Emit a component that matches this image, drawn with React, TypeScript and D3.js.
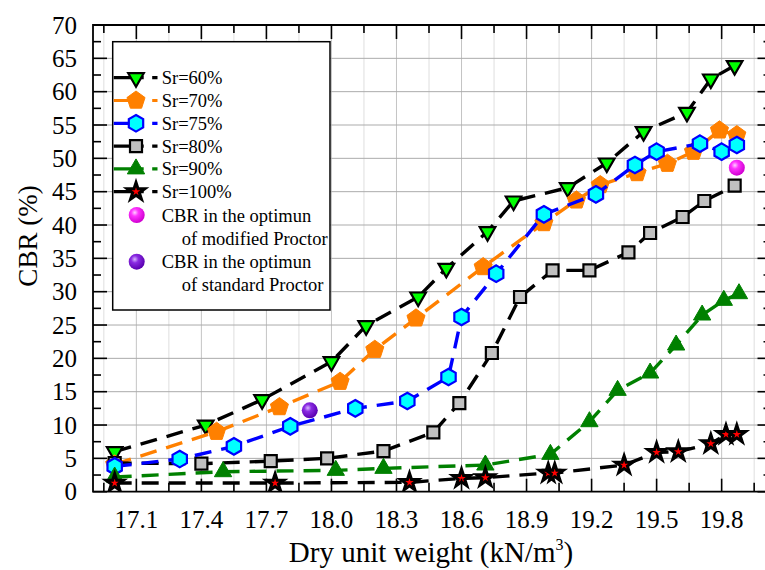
import React from 'react';
import * as d3 from 'd3';

// values
const sr60X = [17.0, 17.42, 17.68, 18.0, 18.16, 18.4, 18.53, 18.72, 18.84, 19.09, 19.27, 19.44, 19.64, 19.75, 19.86];
const sr60Y = [6.0, 10.0, 13.8, 19.5, 24.9, 29.2, 33.5, 39.0, 43.6, 45.6, 49.3, 54.0, 56.9, 61.9, 63.9];

const sr70X = [17.0, 17.47, 17.76, 18.04, 18.2, 18.39, 18.7, 18.98, 19.13, 19.24, 19.41, 19.55, 19.67, 19.79, 19.87];
const sr70Y = [4.1, 9.0, 12.7, 16.5, 21.3, 26.0, 33.7, 40.3, 43.7, 46.0, 47.8, 49.2, 51.0, 54.2, 53.5];

const sr75X = [17.0, 17.3, 17.55, 17.81, 18.11, 18.35, 18.54, 18.6, 18.76, 18.98, 19.22, 19.4, 19.5, 19.7, 19.8, 19.87];
const sr75Y = [3.8, 4.9, 6.8, 9.8, 12.5, 13.6, 17.2, 26.2, 32.7, 41.6, 44.6, 49.0, 51.0, 52.2, 51.0, 52.0];

const sr80X = [17.0, 17.4, 17.72, 17.98, 18.24, 18.47, 18.59, 18.74, 18.87, 19.02, 19.19, 19.37, 19.47, 19.62, 19.72, 19.86];
const sr80Y = [4.3, 4.2, 4.6, 5.0, 6.1, 8.9, 13.3, 20.8, 29.2, 33.2, 33.2, 35.9, 38.8, 41.2, 43.6, 45.9];

const sr90X = [17.0, 17.5, 18.02, 18.24, 18.71, 19.01, 19.19, 19.32, 19.47, 19.59, 19.71, 19.81, 19.88];
const sr90Y = [2.2, 3.0, 3.2, 3.5, 4.0, 5.6, 10.5, 15.2, 17.8, 22.0, 26.5, 28.7, 29.7];

const sr100X = [17.0, 17.74, 18.36, 18.6, 18.71, 19.0, 19.03, 19.35, 19.5, 19.6, 19.75, 19.82, 19.87];
const sr100Y = [1.3, 1.3, 1.4, 2.0, 2.1, 2.8, 2.8, 4.0, 5.9, 6.0, 7.2, 8.6, 8.6];

const modifiedOpt = [19.87, 48.6];
const standardOpt = [17.9, 12.2];

const seriesNames = ['Sr=60%', 'Sr=70%', 'Sr=75%', 'Sr=80%', 'Sr=90%', 'Sr=100%'];
const xTickLabels = ['17.1', '17.4', '17.7', '18.0', '18.3', '18.6', '18.9', '19.2', '19.5', '19.8'];
const yTickLabels = ['0', '5', '10', '15', '20', '25', '30', '35', '40', '45', '50', '55', '60', '65', '70'];

const W = 765;
const H = 570;
const FONT = "'Liberation Serif', 'Times New Roman', Times, 'DejaVu Serif', serif";

const x = d3.scaleLinear().domain([16.9, 20.0]).range([93, 765]);
const y = d3.scaleLinear().domain([0, 70]).range([491.7, 25]);
const left = x(16.9);
const right = x(20.03);
const top = y(70);
const bottom = y(0);

const polygon = (n: number, r: number, rot: number) => {
  const pts = d3.range(n).map((i) => {
    const a = rot + (i * 2 * Math.PI) / n;
    return [r * Math.sin(a), -r * Math.cos(a)];
  });
  return 'M' + pts.map((p) => p.join(',')).join('L') + 'Z';
};

const shapes: Record<string, string> = {
  triDown: polygon(3, 9, Math.PI),
  pent: polygon(5, 9.5, 0),
  hex: polygon(6, 8.3, 0),
  square: 'M-6,-6H6V6H-6Z',
  triUp: polygon(3, 10, 0),
  star: d3.symbol().type(d3.symbolStar).size(95)() as string,
};

const styles = [
  { xs: sr60X, ys: sr60Y, line: '#000000', shape: 'triDown', fill: '#00ff00', stroke: '#000000', sw: 2.2 },
  { xs: sr70X, ys: sr70Y, line: '#ff8000', shape: 'pent', fill: '#ff8000', stroke: '#ff8000', sw: 1 },
  { xs: sr75X, ys: sr75Y, line: '#0000ff', shape: 'hex', fill: '#00ffff', stroke: '#0000ff', sw: 2.2 },
  { xs: sr80X, ys: sr80Y, line: '#000000', shape: 'square', fill: '#c0c0c0', stroke: '#000000', sw: 2.2 },
  { xs: sr90X, ys: sr90Y, line: '#008000', shape: 'triUp', fill: '#008000', stroke: '#008000', sw: 1 },
  { xs: sr100X, ys: sr100Y, line: '#000000', shape: 'star', fill: '#ff0000', stroke: '#000000', sw: 3 },
];

const drawOrder = [0, 1, 3, 2, 4, 5];

const line = d3
  .line<[number, number]>()
  .x((d) => x(d[0]))
  .y((d) => y(d[1]));

const Marker = ({ s, cx, cy }: { s: (typeof styles)[number]; cx: number; cy: number }) => (
  <path
    d={shapes[s.shape]}
    transform={`translate(${cx},${cy})`}
    fill={s.fill}
    stroke={s.stroke}
    strokeWidth={s.sw}
    strokeLinejoin="miter"
  />
);

const txt = { fontFamily: FONT };

export default function App() {
  const majorX = xTickLabels.map(Number);
  const minorX = d3.range(0, 11).map((i) => 16.95 + i * 0.3);
  const gridX = d3.range(0, 21).map((i) => 16.95 + i * 0.15);
  const majorY = yTickLabels.map(Number);
  const minorY = d3.range(0, 14).map((i) => 2.5 + i * 5);

  const legX = 112.7;
  const legY = 41.7;
  const rowY = (i: number) => 77.7 + i * 22.8;

  return (
    <div style={{ position: 'absolute', left: 0, top: 0 }}>
      <svg width={W} height={H} style={{ display: 'block', background: '#fff' }}>
        <defs>
          <radialGradient id="ballMag" cx="0.38" cy="0.35" r="0.65">
            <stop offset="0" stopColor="#ffd0ff" />
            <stop offset="0.35" stopColor="#ff33ff" />
            <stop offset="1" stopColor="#d000d0" />
          </radialGradient>
          <radialGradient id="ballPur" cx="0.38" cy="0.35" r="0.65">
            <stop offset="0" stopColor="#d8b8ff" />
            <stop offset="0.35" stopColor="#8a2be2" />
            <stop offset="1" stopColor="#5a00b0" />
          </radialGradient>
          <clipPath id="plotClip">
            <rect x={left} y={top} width={right - left} height={bottom - top} />
          </clipPath>
        </defs>

        {/* grid */}
        {gridX.map((v, i) => (
          <line key={'gx' + i} x1={x(v)} x2={x(v)} y1={top} y2={bottom} stroke={i % 2 === 1 ? '#c4c4c4' : '#dedede'} strokeWidth={1} />
        ))}
        {majorY.slice(1, -1).map((v) => (
          <line key={'gy' + v} x1={left} x2={right} y1={y(v)} y2={y(v)} stroke="#ababab" strokeWidth={1} />
        ))}

        {/* series */}
        <g clipPath="url(#plotClip)">
          {drawOrder.map((k) => {
            const s = styles[k];
            const pts = s.xs.map((v, i) => [v, s.ys[i]] as [number, number]);
            return (
              <g key={'s' + k}>
                <path d={line(pts) as string} fill="none" stroke={s.line} strokeWidth={3.4} strokeDasharray="17 10" />
                {pts.map((p, i) => (
                  <Marker key={i} s={s} cx={x(p[0])} cy={y(p[1])} />
                ))}
              </g>
            );
          })}
          <circle cx={x(modifiedOpt[0])} cy={y(modifiedOpt[1])} r={8} fill="url(#ballMag)" />
          <circle cx={x(standardOpt[0])} cy={y(standardOpt[1])} r={8} fill="url(#ballPur)" />
        </g>

        {/* frame */}
        <path d={`M${right},${top}H${left}V${bottom}H${right}`} fill="none" stroke="#000" strokeWidth={1.8} />

        {/* x ticks */}
        {majorX.map((v) => (
          <g key={'xt' + v}>
            <line x1={x(v)} x2={x(v)} y1={bottom} y2={bottom - 13} stroke="#000" strokeWidth={1.6} />
            <line x1={x(v)} x2={x(v)} y1={top} y2={top + 14} stroke="#000" strokeWidth={1.6} />
          </g>
        ))}
        {minorX.map((v, i) => (
          <g key={'xm' + i}>
            <line x1={x(v)} x2={x(v)} y1={bottom} y2={bottom - 9} stroke="#000" strokeWidth={1.6} />
            <line x1={x(v)} x2={x(v)} y1={top} y2={top + 8} stroke="#000" strokeWidth={1.6} />
          </g>
        ))}
        {/* y ticks */}
        {majorY.map((v) => (
          <g key={'yt' + v}>
            <line x1={left} x2={left + 14} y1={y(v)} y2={y(v)} stroke="#000" strokeWidth={1.6} />
            <line x1={right} x2={right - 14} y1={y(v)} y2={y(v)} stroke="#000" strokeWidth={1.6} />
          </g>
        ))}
        {minorY.map((v) => (
          <g key={'ym' + v}>
            <line x1={left} x2={left + 8} y1={y(v)} y2={y(v)} stroke="#000" strokeWidth={1.6} />
            <line x1={right} x2={right - 8} y1={y(v)} y2={y(v)} stroke="#000" strokeWidth={1.6} />
          </g>
        ))}

        {/* tick labels */}
        {xTickLabels.map((t) => (
          <text key={'xl' + t} style={txt} x={x(Number(t))} y={528} textAnchor="middle" fontSize={25} fill="#000">
            {t}
          </text>
        ))}
        {yTickLabels.map((t) => (
          <text key={'yl' + t} style={txt} x={77} y={y(Number(t)) + 8.5} textAnchor="end" fontSize={25} fill="#000">
            {t}
          </text>
        ))}

        {/* axis titles */}
        <text style={txt} x={431} y={562} textAnchor="middle" fontSize={29} fill="#000">
          Dry unit weight (kN/m<tspan dy={-12} fontSize={16}>3</tspan>
          <tspan dy={12}>)</tspan>
        </text>
        <text style={txt} transform={`translate(37,236) rotate(-90)`} textAnchor="middle" fontSize={27} fill="#000">
          CBR (%)
        </text>

        {/* legend */}
        <rect x={legX} y={legY} width={217.3} height={268.3} fill="#fff" stroke="#000" strokeWidth={1.5} />
        {styles.map((s, i) => (
          <g key={'lg' + i}>
            <line x1={legX + 1} x2={157.5} y1={rowY(i)} y2={rowY(i)} stroke={s.line} strokeWidth={3.2} strokeDasharray="30 8.5 6 20" />
            <Marker s={s} cx={136} cy={rowY(i)} />
            <text style={txt} x={161.7} y={rowY(i) + 6.5} fontSize={18.5} fill="#000">
              {seriesNames[i]}
            </text>
          </g>
        ))}
        <circle cx={136.7} cy={215} r={8} fill="url(#ballMag)" />
        <text style={txt} x={161.7} y={221.5} fontSize={18.5} fill="#000">CBR in the optimun</text>
        <text style={txt} x={181.7} y={244.5} fontSize={18.5} fill="#000">of modified Proctor</text>
        <circle cx={136.7} cy={261.7} r={8} fill="url(#ballPur)" />
        <text style={txt} x={161.7} y={268} fontSize={18.5} fill="#000">CBR in the optimun</text>
        <text style={txt} x={181.7} y={291} fontSize={18.5} fill="#000">of standard Proctor</text>
      </svg>
    </div>
  );
}
